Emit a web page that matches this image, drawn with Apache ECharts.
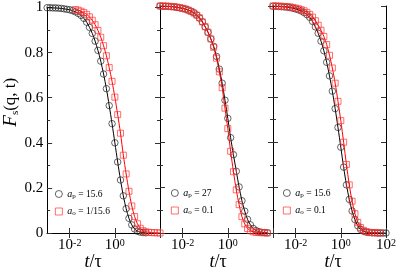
<!DOCTYPE html>
<html><head><meta charset="utf-8">
<script src="https://cdn.jsdelivr.net/npm/echarts@6/dist/echarts.min.js"></script>
<style>html,body{margin:0;padding:0;background:#fff}#c{width:399px;height:271px}</style>
</head><body><div id="c"></div>
<script>
// log10(t/tau) sampling grid
const logT = [-3,-2.875,-2.75,-2.625,-2.5,-2.375,-2.25,-2.125,-2,-1.875,-1.75,-1.625,-1.5,-1.375,-1.25,-1.125,-1,-0.875,-0.75,-0.625,-0.5,-0.375,-0.25,-0.125,0,0.125,0.25,0.375,0.5,0.625,0.75,0.875,1,1.125,1.25,1.375,1.5,1.625,1.75,1.875,2];
// panel 1
const p1Black = [0.999,0.999,0.998,0.998,0.997,0.996,0.994,0.992,0.99,0.986,0.981,0.974,0.965,0.952,0.935,0.912,0.885,0.851,0.81,0.762,0.705,0.64,0.565,0.485,0.40,0.315,0.235,0.165,0.108,0.065,0.036,0.018,0.008,0.004,0.002,0.001,null,null,null,null,null];
const p1Red = [null,null,null,null,null,null,null,null,null,null,0.991,0.988,0.9835,0.9775,0.9695,0.9585,0.9435,0.9235,0.8985,0.868,0.8305,0.786,0.7335,0.6725,0.6025,0.525,0.4425,0.345,0.262,0.185,0.12,0.073,0.041,0.021,0.01,0.005,0.003,0.002,0.001,0.001,0];
// panel 2
const p2Black = [1.0,0.999,0.999,0.998,0.997,0.996,0.994,0.992,0.989,0.986,0.982,0.977,0.97,0.96,0.947,0.93,0.908,0.884,0.855,0.822,0.778,0.722,0.66,0.585,0.505,0.42,0.345,0.272,0.203,0.142,0.096,0.06,0.036,0.02,0.011,0.006,0.003,0.002,0.001,null,null];
const p2Red = [1.0,1.0,0.999,0.999,0.998,0.997,0.995,0.993,0.99,0.987,0.982,0.976,0.969,0.96,0.948,0.93,0.909,0.885,0.855,0.818,0.77,0.71,0.64,0.55,0.46,0.36,0.27,0.19,0.125,0.072,0.04,0.02,0.01,0.005,0.003,0.002,0.001,0.001,0,null,null];
// panel 3
const p3Black = [0.999,0.999,0.998,0.997,0.996,0.995,0.993,0.99,0.987,0.983,0.978,0.971,0.962,0.95,0.932,0.908,0.88,0.845,0.803,0.752,0.692,0.625,0.548,0.465,0.378,0.29,0.212,0.148,0.097,0.059,0.032,0.016,0.008,0.004,0.002,0.001,0.001,0,0,0,0];
const p3Red = [1.0,1.0,0.999,0.999,0.998,0.997,0.996,0.994,0.991,0.988,0.984,0.979,0.972,0.963,0.951,0.935,0.915,0.893,0.866,0.83,0.783,0.727,0.66,0.58,0.495,0.4,0.302,0.212,0.14,0.085,0.047,0.024,0.012,0.006,0.003,0.002,0.001,0.001,0,null,null];
// tick labels (decade exponents)
const xLabelExp = [[-2,0],[-2,0],[-2,0,2]];
const xTickExp = [-2,0,2];
const legendText = {
  b1:'{i|a}{sub|p}{n| = 15.6}', r1:'{i|a}{sub|o}{n| = 1/15.6}',
  b2:'{i|a}{sub|p}{n| = 27}',   r2:'{i|a}{sub|o}{n| = 0.1}',
  b3:'{i|a}{sub|p}{n| = 15.6}', r3:'{i|a}{sub|o}{n| = 0.1}'
};

const FONT = 'Liberation Serif';
const grids = [
  {left:46, top:6, width:114, height:227},
  {left:160, top:6, width:113, height:227},
  {left:273, top:6, width:115, height:227}
];
const xAxes = [], yAxes = [];
for (let g = 0; g < 3; g++) {
  for (const pos of ['bottom','top']) {
    xAxes.push({
      type:'log', logBase:10, gridIndex:g, position:pos, min:0.001, max:100,
      axisLine:{show:true, lineStyle:{color:'#000', width:1}},
      axisTick:{show:true, inside:true, length:5, lineStyle:{color:'#333'},
        customValues: xTickExp.map(e=>Math.pow(10,e))},
      axisLabel: pos==='bottom' ? {
        show:true, margin:5, fontFamily:FONT, color:'#000',
        customValues: xLabelExp[g].map(e=>Math.pow(10,e)),
        formatter: v => '{b|10}{s|' + Math.round(Math.log10(v)) + '}',
        rich:{ b:{fontSize:15, fontFamily:FONT, color:'#000'},
               s:{fontSize:10, fontFamily:FONT, color:'#000', verticalAlign:'top'} }
      } : {show:false},
      splitLine:{show:false}, minorTick:{show:false}
    });
  }
  for (const pos of ['left','right']) {
    const main = (g===0 && pos==='left');
    yAxes.push({
      type:'value', gridIndex:g, position:pos, min:0, max:1, interval:0.2,
      name: main ? '{f|F}{s|s}{n|(q, t)}' : '',
      nameLocation:'middle', nameRotate:90, nameGap:10,
      nameTextStyle:{ padding:[0,0,0,36], rich:{
        f:{fontSize:19, fontStyle:'italic', fontFamily:FONT, color:'#000', lineHeight:20},
        s:{fontSize:11, fontFamily:FONT, color:'#000', verticalAlign:'bottom', lineHeight:20},
        n:{fontSize:17, fontFamily:FONT, color:'#000', lineHeight:20} } },
      axisLine:{show:true, lineStyle:{color:'#000', width:1}},
      axisTick:{show:true, inside:true, length:5, lineStyle:{color:'#333'}},
      minorTick:{show:true, splitNumber:2, length:3, lineStyle:{color:'#333'}},
      axisLabel: main ? {
        show:true, margin:4, fontFamily:FONT, fontSize:15, color:'#000',
        formatter: v => String(Math.round(v*10)/10)
      } : {show:false},
      splitLine:{show:false}
    });
  }
}
function pts(arr){ const out=[]; arr.forEach((v,i)=>{ if(v!==null) out.push([Math.pow(10,logT[i]), v]); }); return out; }
const sets = [[p1Black,p1Red],[p2Black,p2Red],[p3Black,p3Red]];
const series = [];
sets.forEach((pair,g)=>{
  series.push({name:'b'+(g+1), type:'line', xAxisIndex:g*2, yAxisIndex:g*2, data:pts(pair[0]),
    symbol:'circle', symbolSize:6.5, showAllSymbol:true, smooth:0.3,
    itemStyle:{color:'rgba(0,0,0,0)', borderColor:'#222', borderWidth:0.7},
    lineStyle:{color:'#000', width:1}, z:2});
  series.push({name:'r'+(g+1), type:'line', xAxisIndex:g*2, yAxisIndex:g*2, data:pts(pair[1]),
    symbol:'rect', symbolSize:6, showAllSymbol:true, smooth:0.3,
    itemStyle:{color:'rgba(0,0,0,0)', borderColor:'#ff3030', borderWidth:0.7},
    lineStyle:{color:'#ff0000', width:1}, z:3});
});
const legendPos = [[55,189],[171,188],[283,188]];
const legends = legendPos.map((p,g)=>({
  left:p[0], top:p[1], padding:0, orient:'vertical', itemWidth:7, itemHeight:7, itemGap:7,
  data:[{name:'b'+(g+1), icon:'circle'},{name:'r'+(g+1), icon:'rect'}],
  itemStyle:{color:'rgba(0,0,0,0)', borderWidth:0.7},
  formatter: n => legendText[n],
  textStyle:{ fontFamily:FONT, color:'#000', rich:{
    i:{fontSize:10, fontStyle:'italic', fontFamily:FONT, color:'#000', lineHeight:11},
    sub:{fontSize:7, fontFamily:FONT, color:'#000', verticalAlign:'bottom', lineHeight:11},
    n:{fontSize:9.5, fontFamily:FONT, color:'#000', lineHeight:11} } },
  selectedMode:false
}));
const xNameX = [93,218,333];
const graphic = xNameX.map(x=>({
  type:'text', x:x, y:262, style:{
    text:'{t|t}{n|/τ}', align:'center', verticalAlign:'middle',
    rich:{ t:{fontSize:18, fontStyle:'italic', fontFamily:FONT, fill:'#000'},
           n:{fontSize:18, fontFamily:FONT, fill:'#000'} } }
}));
const chart = echarts.init(document.getElementById('c'));
chart.setOption({
  animation:false, backgroundColor:'#fff',
  grid:grids, xAxis:xAxes, yAxis:yAxes, series:series, legend:legends, graphic:graphic
});
</script></body></html>
